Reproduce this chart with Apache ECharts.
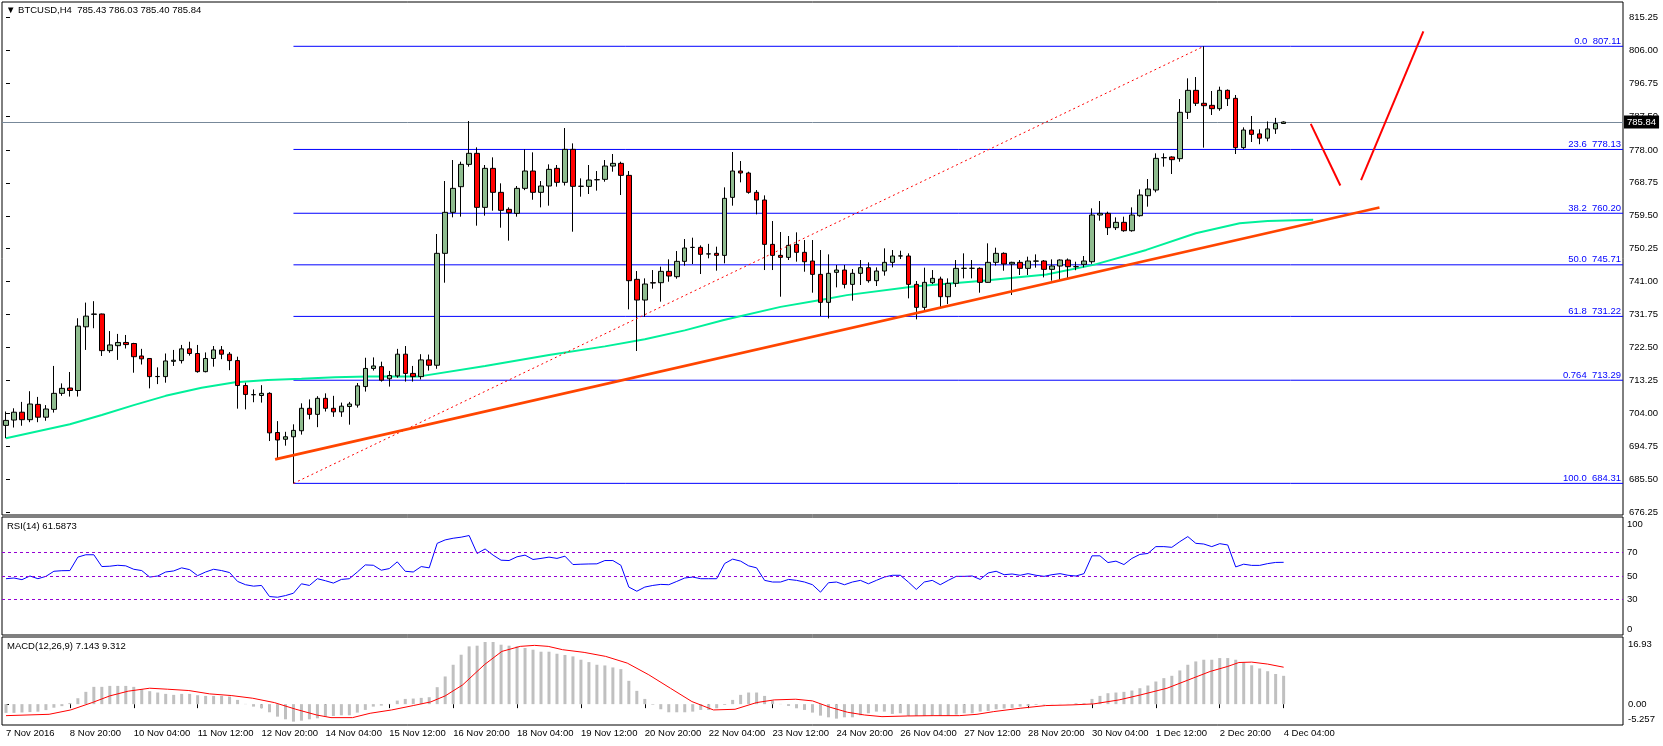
<!DOCTYPE html>
<html><head><meta charset="utf-8">
<script src="https://cdn.jsdelivr.net/npm/echarts@6/dist/echarts.min.js"></script>
<style>html,body{margin:0;padding:0;background:#fff;overflow:hidden}#c{width:1663px;height:746px}</style>
</head><body><div id="c"></div>
<script>
// ---------- data ----------
const timeLabels = ['7 Nov 2016','8 Nov 20:00','10 Nov 04:00','11 Nov 12:00','12 Nov 20:00','14 Nov 04:00','15 Nov 12:00','16 Nov 20:00','18 Nov 04:00','19 Nov 12:00','20 Nov 20:00','22 Nov 04:00','23 Nov 12:00','24 Nov 20:00','26 Nov 04:00','27 Nov 12:00','28 Nov 20:00','30 Nov 04:00','1 Dec 12:00','2 Dec 20:00','4 Dec 04:00'];
const labelStep = 8;      // bars between time labels
const slotCount = 203;    // bar slots visible across the window

const opens = [
700.6,702.1,704.3,702.2,706.5,702.9,705.1,709.6,711.1,710.4,
728.3,731.8,731.9,721.6,723.0,723.9,723.6,720.1,719.4,714.3,
714.3,718.6,718.8,722.1,720.8,715.7,719.4,721.8,720.6,718.8,
711.8,709.2,709.0,709.6,698.6,696.7,697.4,699.1,705.4,703.7,
708.2,705.4,704.4,705.9,706.3,711.5,716.6,717.1,713.7,714.5,
720.6,715.2,714.3,719.0,717.5,748.94,760.46,767.67,773.94,777.04,
761.86,772.82,766.08,761.3,760.18,767.2,772.07,766.08,767.86,772.82,
768.89,778.16,767.76,767.76,769.6,769.73,773.47,774.22,770.85,741.63,
735.82,740.69,740.69,743.88,742.38,746.69,750.6,750.62,748.75,748.94,
748.37,764.67,772.07,771.51,766.08,763.92,751.46,748.37,747.81,751.46,
749.22,746.78,743.03,735.17,743.6,744.25,740.22,743.32,744.91,741.26,
743.97,746.41,748.19,748.19,740.22,733.76,740.69,741.72,736.76,740.51,
744.72,744.72,744.72,740.79,746.41,748.94,745.94,746.41,744.72,746.75,
746.78,744.44,745.38,747.06,745.19,745.84,746.59,759.71,760.17,756.15,
757.65,755.3,759.52,765.14,766.73,775.8,776.01,775.54,788.56,794.74,
791.1,790.52,789.59,794.74,792.49,778.63,783.59,782.5,781.3,783.9,
785.43];
const closes = [
702.0,704.3,702.2,706.6,702.9,705.2,709.6,711.0,710.4,728.5,
731.3,731.9,721.6,723.2,723.9,723.3,719.9,719.3,714.3,714.35,
718.7,718.9,722.1,720.8,715.7,719.4,721.8,720.6,718.8,711.8,
709.3,709.25,709.6,698.5,696.5,697.4,699.2,705.4,703.7,708.2,
705.4,704.4,706.0,706.6,711.7,716.6,717.3,713.3,714.6,720.6,
715.2,714.3,719.0,717.5,748.94,760.46,767.2,773.94,777.04,761.86,
772.82,766.08,761.02,760.36,767.2,772.07,766.08,767.86,772.54,768.89,
778.16,767.76,767.8,769.54,769.64,773.47,774.22,770.85,741.26,735.82,
740.32,740.6,743.88,742.57,746.69,750.44,750.62,748.66,748.8,748.37,
764.39,772.07,771.51,766.08,763.92,751.46,748.37,747.81,751.18,749.22,
746.59,743.03,735.17,743.32,744.25,740.22,743.32,744.91,741.26,743.97,
746.41,748.19,748.22,740.22,733.76,740.79,741.91,736.76,740.51,744.72,
744.75,744.75,740.79,746.41,748.94,745.94,746.41,744.72,746.78,746.78,
744.44,745.38,747.06,745.19,745.2,746.78,759.71,760.17,756.15,757.65,
755.3,759.71,765.33,767.01,775.63,775.82,775.26,788.56,794.74,791.1,
790.43,789.59,794.74,792.4,778.63,783.59,782.37,781.3,783.9,785.4,
785.84];
const highs = [
704.5,705.4,707.2,710.2,708.6,706.3,717.3,712.4,715.6,730.7,
735.1,735.5,732.0,727.1,726.3,726.0,723.8,722.1,719.5,716.9,
720.8,721.8,723.2,724.1,723.2,721.1,722.9,722.9,721.2,719.9,
712.6,710.7,711.9,709.9,701.8,698.8,700.9,706.8,707.9,708.8,
709.6,708.9,707.0,707.2,712.5,719.6,719.7,718.5,715.9,722.1,
722.9,717.3,720.6,720.5,754.37,769.26,775.16,774.69,786.12,778.72,
773.76,775.91,768.61,761.86,767.86,778.16,777.32,769.26,773.94,773.76,
784.15,779.84,770.01,773.76,772.07,775.16,776.85,774.69,772.07,743.97,
741.91,744.25,745.19,747.25,749.59,752.96,753.34,751.18,751.6,750.81,
767.48,777.41,774.88,771.88,766.73,765.23,758.02,754.93,753.81,754.84,
752.68,752.68,749.87,748.65,745.66,745.66,744.53,747.06,746.41,745.0,
750.34,749.87,749.68,748.94,741.16,744.91,744.25,742.38,741.91,747.06,
748.94,747.06,745.0,751.75,750.53,749.22,746.59,747.06,748.0,748.65,
747.06,747.25,747.25,747.5,746.59,748.19,761.58,763.64,760.64,759.05,
759.24,761.86,766.92,769.82,777.04,777.04,776.2,792.3,798.11,798.48,
807.11,794.55,795.77,795.0,793.43,784.34,787.53,783.8,786.0,787.0,
786.03];
const lows = [
697.0,700.0,700.5,701.5,701.5,701.9,704.2,708.9,708.7,708.7,
721.8,727.9,720.1,721.0,719.0,722.2,715.4,717.7,711.0,712.2,
712.6,717.3,718.0,720.2,715.4,715.5,717.1,719.2,716.1,705.3,
705.1,707.1,707.0,696.2,691.1,694.9,684.31,698.0,702.3,700.1,
704.5,703.0,703.0,700.8,705.6,710.1,716.0,712.9,711.5,714.0,
712.9,712.9,713.5,716.0,716.5,740.69,759.05,759.24,773.29,756.71,
759.52,760.92,756.15,752.5,759.24,766.7,764.0,761.86,762.33,767.67,
768.0,755.02,764.86,765.61,766.55,769.07,771.88,765.33,733.2,721.5,
731.14,739.01,735.36,740.97,741.82,745.47,745.94,743.13,747.53,744.07,
746.13,762.33,768.89,765.7,759.89,744.25,744.25,736.76,747.06,746.6,
743.78,737.88,731.33,730.67,739.38,739.1,735.64,740.04,740.69,739.76,
742.66,745.0,747.34,736.29,730.39,732.54,740.32,733.76,734.7,739.5,
741.91,741.91,737.88,740.69,745.5,744.06,737.23,742.85,742.85,744.91,
742.19,741.26,741.44,741.72,744.2,745.0,746.0,758.11,754.09,755.49,
755.0,755.02,759.24,762.05,766.08,773.29,771.23,774.69,786.68,790.34,
778.63,787.81,789.0,790.34,776.85,778.16,780.22,779.6,780.4,782.5,
785.40];

// moving average (green), read points [bar, price]
const maPoints = [[0,697.0],[8,700.9],[12,703.5],[16,706.3],[20,708.9],[24.5,711.2],[28.7,712.7],[32.8,713.35],[37,713.7],[41.2,714.1],[45.3,714.3],[51.6,714.3],[60,717.3],[68,720.4],[75,722.8],[80,724.8],[85,727.3],[89.9,730.2],[97,733.9],[102,735.8],[105.3,737.2],[113.7,739.6],[122,741.2],[130.3,743.0],[136.2,745.7],[142.8,749.9],[149,754.6],[154.5,757.4],[158,758.0],[163.7,758.4]];
// drawn objects
const trendLine = [[33.7,691.05],[172.0,761.8]];
const fibDiagonal = [[36,684.31],[150,807.11]];
const forecastDown = [[163.4,785.3],[167.1,768.0]];
const forecastUp = [[169.7,769.5],[177.5,811.3]];
const fibNames = ['0.0','23.6','38.2','50.0','61.8','0.764','100.0'];
const fibPrices = [807.11,778.13,760.20,745.71,731.22,713.29,684.31];
const fibStart = 36;
const lastPrice = 785.84;
const priceTicks = [676.25,685.50,694.75,704.00,713.25,722.50,731.75,741.00,750.25,759.50,768.75,778.00,787.50,796.75,806.00,815.25];
const priceMin = 675.42, priceMax = 819.56;

// RSI(14)
const rsiValues = [
47.7,48.3,46.9,50,47.7,49.7,54,54.5,54.6,66,
68,68,58,58.3,59.1,58.6,55.7,54.6,49.1,50,
53.4,54.3,56.9,55.4,50.3,53.4,55.7,54.6,52.9,45.4,
42.6,41.4,42,32.6,32,33.4,35.4,43.4,42,47.7,
46,44,47.1,47.7,53.4,59.4,59.1,54.9,56.3,62,
54,53.4,58,56.9,77.7,80.6,82,82.9,84.3,69.1,
72.9,67.7,63.4,63.1,66.3,67.7,64,64.9,66,64.9,
66.8,59.7,60,60.2,60.3,63.1,63.1,59.1,40.6,37.1,
40.6,42,42.9,42.6,45.4,48.3,49.1,47.7,47.7,47.7,
60.6,64.3,62.6,58.6,56.9,46.3,44.9,44.9,47.1,46.3,
44.9,42.6,36.3,44.3,44.9,42.6,44.9,46.3,43.4,46.3,
49.1,50.6,50.6,44.9,38.6,44.9,46.3,42.6,46.3,49.7,
49.7,50,47.1,52.6,54,51.1,51.7,50.6,52,50.6,
49.7,51.1,52,50.6,50,52,67.1,67.1,61.4,62.6,
59.7,64.9,68.3,69.1,74.9,74.9,74.3,79.1,83.4,77.7,
77.1,74.9,77.4,76.3,57.7,60,59,59,60.5,61.5,
61.59];
const rsiLevels = [70,50,30];
const rsiTicks = [0,30,50,70,100];

// MACD(12,26,9)
const macdMain = [
-2.2,-2.2,-2.1,-2.0,-1.9,-1.5,-0.9,-0.5,0.3,1.49,
3.1,4.36,4.36,4.6,4.6,4.6,4.36,3.77,3.27,2.93,
2.59,2.34,2.59,2.59,2.25,2.08,2.08,2.08,1.92,1.07,
0.06,-0.62,-1.04,-2.05,-3.15,-3.82,-4.41,-4.16,-3.82,-3.57,
-3.15,-2.98,-2.81,-2.81,-2.13,-1.46,-0.62,-0.36,0.06,0.9,
1.32,1.41,1.58,1.75,4.28,6.98,9.93,12.46,14.57,14.74,
15.67,15.67,14.99,14.74,14.57,14.15,13.73,13.22,13.22,12.71,
12.4,12.04,11.2,10.6,9.93,9.76,9.26,8.83,5.88,3.35,
1.32,-0.15,-1.29,-2.05,-2.05,-2.05,-1.88,-1.46,-1.46,-1.04,
-0.2,1.07,2.34,2.93,2.93,2.08,0.9,0.06,-0.45,-1.04,
-1.46,-2.13,-2.9,-3.32,-3.65,-3.32,-3.32,-2.81,-2.3,-1.88,
-1.88,-2.47,-2.3,-2.98,-2.98,-2.98,-2.98,-2.98,-2.98,-2.64,
-2.3,-2.3,-1.88,-1.71,-1.29,-1.12,-0.95,-0.62,-0.45,-0.19,
-0.11,0.06,0.06,0.06,0.23,0.23,1.32,2.08,2.76,2.93,
3.1,3.43,4.02,4.7,5.71,6.56,7.15,8.5,9.93,10.77,
11.2,11.2,11.62,11.62,11.2,10.5,9.8,9.0,8.3,7.6,
7.143];
const macdSignal = [[0,-2.9],[5.4,-2.56],[8.1,-1.46],[10.8,0.4],[13,2.08],[15.3,3.27],[18,4.02],[20.2,3.77],[22.9,3.43],[25.5,2.59],[28.2,2.17],[30.9,1.49],[33.6,0.4],[36.3,-1.29],[38.9,-2.73],[40.7,-3.4],[43.4,-3.4],[45.6,-2.3],[48.3,-1.46],[51,-0.36],[53.2,0.57],[55,2.08],[57.2,4.87],[59.9,9.93],[62.1,13.3],[64.4,14.57],[66.2,14.82],[67.9,14.57],[69.7,13.73],[72.4,13.05],[75.1,12.04],[77.8,10.35],[80.5,7.4],[83.2,4.02],[85.9,0.65],[88.6,-1.46],[91.3,-1.29],[94,0.4],[96.2,1.07],[98.9,1.24],[101,0.82],[103.2,-0.78],[105.4,-2.05],[107.5,-2.73],[109.7,-3.15],[112.9,-2.98],[116.2,-2.9],[119.4,-2.9],[121.6,-2.56],[123.7,-1.88],[127,-1.04],[130.2,-0.36],[133.5,-0.19],[136.2,0.06],[139.4,1.07],[142.1,2.34],[145.4,4.02],[148.1,6.13],[150.8,8.24],[153,9.51],[154.4,10.5],[156,10.6],[158,10.1],[160,9.312]];
const macdMin = -5.257, macdMax = 16.93;
const macdTicks = [-5.257,0,16.93];

// ---------- chart ----------
const F = 'Liberation Sans', FS = 9.5;
const FIB_BLUE = '#0000ff';
const cats = [];
for (let k = 0; k < slotCount; k++) {
  const li = k / labelStep;
  cats.push(Number.isInteger(li) && li < timeLabels.length ? timeLabels[li] : 's' + k);
}
const isLabel = (i) => i % labelStep === 0 && i / labelStep < timeLabels.length;
const candleData = opens.map((o, i) => [o, closes[i], lows[i], highs[i]]);
const txt = {color: '#000', fontSize: FS, fontFamily: F};
const gridBase = {left: 2, right: 40, show: true, borderColor: '#000', borderWidth: 1, backgroundColor: 'transparent'};
const hiddenCat = (g) => ({type: 'category', gridIndex: g, data: cats, boundaryGap: true, axisLine: {show: false}, axisTick: {show: false}, axisLabel: {show: false}, splitLine: {show: false}});
const hiddenVal = (g) => ({type: 'value', gridIndex: g, min: -0.5, max: slotCount - 0.5, show: false, splitLine: {show: false}});

// one straight series per Fibonacci level, drawn from the level arrays
const fibSeries = fibPrices.map((p, i) => ({
  type: 'line', name: 'fib' + i, xAxisIndex: 1, yAxisIndex: 0, z: 1, symbol: 'none', silent: true,
  data: [[fibStart, p], [slotCount - 0.5, p]],
  lineStyle: {color: FIB_BLUE, width: 1, type: 'solid'},
  endLabel: {show: true, formatter: fibNames[i] + '  ' + p.toFixed(2), align: 'right', verticalAlign: 'bottom',
    distance: 0, offset: [-2, 0], color: FIB_BLUE, fontSize: FS, fontFamily: F}
}));

const option = {
  animation: false,
  textStyle: {fontFamily: F},
  grid: [
    Object.assign({top: 2, height: 513}, gridBase),
    Object.assign({top: 517, height: 118}, gridBase),
    Object.assign({top: 637, height: 88}, gridBase)
  ],
  xAxis: [
    hiddenCat(0),
    hiddenVal(0),
    hiddenCat(1),
    {type: 'category', gridIndex: 2, data: cats, boundaryGap: true,
     axisLine: {show: false},
     axisTick: {show: true, alignWithLabel: true, interval: (i) => isLabel(i), length: 4, lineStyle: {color: '#000'}},
     axisLabel: Object.assign({show: true, interval: (i) => isLabel(i), formatter: (v) => (v.charAt(0) === 's' && !isNaN(+v.slice(1))) ? '' : v, align: 'left', margin: 3}, txt),
     splitLine: {show: false}},
    hiddenVal(2)
  ],
  yAxis: [
    {type: 'value', gridIndex: 0, position: 'right', min: priceMin, max: priceMax, scale: true,
     axisLine: {show: false}, splitLine: {show: false},
     axisTick: {show: true, length: 4, customValues: priceTicks, lineStyle: {color: '#000'}},
     axisLabel: Object.assign({customValues: priceTicks, formatter: (v) => v.toFixed(2), margin: 6}, txt)},
    {type: 'value', gridIndex: 1, position: 'right', min: 0, max: 100,
     axisLine: {show: false}, splitLine: {show: false},
     axisTick: {show: false, customValues: rsiTicks},
     axisLabel: Object.assign({customValues: rsiTicks, margin: 4,
       formatter: (v) => v === 100 ? '{t|100}' : (v === 0 ? '{b|0}' : String(v)),
       rich: {t: Object.assign({padding: [14, 0, 0, 0]}, txt), b: Object.assign({padding: [0, 0, 12, 0]}, txt)}}, txt)},
    {type: 'value', gridIndex: 2, position: 'right', min: macdMin, max: macdMax,
     axisLine: {show: false}, splitLine: {show: false},
     axisTick: {show: true, length: 3, customValues: [0], lineStyle: {color: '#000'}},
     axisLabel: Object.assign({customValues: macdTicks, margin: 5,
       formatter: (v) => v === macdMax ? '{t|' + macdMax + '}' : (v === macdMin ? '{b|' + macdMin + '}' : '0.00'),
       rich: {t: Object.assign({padding: [14, 0, 0, 0]}, txt), b: Object.assign({padding: [0, 0, 12, 0]}, txt)}}, txt)}
  ],
  series: [
    {type: 'candlestick', name: 'BTCUSD', xAxisIndex: 0, yAxisIndex: 0, data: candleData, barWidth: 5, z: 3,
     itemStyle: {color: '#8fbc8f', color0: '#ff0000', borderColor: '#000', borderColor0: '#000', borderWidth: 1},
     markLine: {silent: true, symbol: ['none', 'none'], z: 1,
       lineStyle: {color: '#778899', type: 'solid', width: 1},
       label: {show: true, position: 'end', distance: 1, formatter: lastPrice.toFixed(2), color: '#fff', backgroundColor: '#000', padding: [2, 3, 1, 3], fontSize: FS, fontFamily: F},
       data: [{yAxis: lastPrice}]}},
    ...fibSeries,
    {type: 'line', name: 'MA', xAxisIndex: 1, yAxisIndex: 0, data: maPoints, showSymbol: false, symbol: 'none', z: 2,
     lineStyle: {color: '#00f09a', width: 2}},
    {type: 'line', name: 'fibDiag', xAxisIndex: 1, yAxisIndex: 0, data: fibDiagonal, symbol: 'none', z: 4,
     lineStyle: {color: '#ff0000', width: 1, type: [2, 3]}},
    {type: 'line', name: 'trend', xAxisIndex: 1, yAxisIndex: 0, data: trendLine, symbol: 'none', z: 5,
     lineStyle: {color: '#ff4500', width: 2.6}},
    {type: 'line', name: 'fcDown', xAxisIndex: 1, yAxisIndex: 0, data: forecastDown, symbol: 'none', z: 5,
     lineStyle: {color: '#ff0000', width: 2}},
    {type: 'line', name: 'fcUp', xAxisIndex: 1, yAxisIndex: 0, data: forecastUp, symbol: 'none', z: 5,
     lineStyle: {color: '#ff0000', width: 2}},
    {type: 'line', name: 'RSI', xAxisIndex: 2, yAxisIndex: 1, data: rsiValues, symbol: 'none', z: 3,
     lineStyle: {color: '#0000ff', width: 1},
     markLine: {silent: true, symbol: ['none', 'none'], label: {show: false},
       lineStyle: {color: '#9400d3', type: [3, 3], width: 1},
       data: rsiLevels.map((v) => ({yAxis: v}))}},
    {type: 'bar', name: 'MACD', xAxisIndex: 3, yAxisIndex: 2, data: macdMain, barWidth: 3,
     itemStyle: {color: '#c0c0c0'}},
    {type: 'line', name: 'Signal', xAxisIndex: 4, yAxisIndex: 2, data: macdSignal, symbol: 'none', z: 3,
     lineStyle: {color: '#ff0000', width: 1}}
  ],
  graphic: [
    {type: 'text', left: 6, top: 5, style: {text: '\u25BC BTCUSD,H4  785.43 786.03 785.40 785.84', fill: '#000', font: FS + 'px "' + F + '"'}},
    {type: 'text', left: 7, top: 521, style: {text: 'RSI(14) 61.5873', fill: '#000', font: FS + 'px "' + F + '"'}},
    {type: 'text', left: 7, top: 641, style: {text: 'MACD(12,26,9) 7.143 9.312', fill: '#000', font: FS + 'px "' + F + '"'}}
  ]
};
const chart = echarts.init(document.getElementById('c'), null, {renderer: 'canvas', width: 1663, height: 746});
chart.setOption(option);
</script>
</body></html>
